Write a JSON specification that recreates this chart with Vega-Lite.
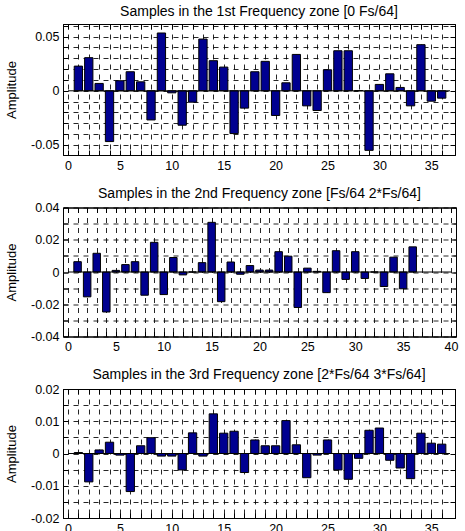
{
  "$schema": "https://vega.github.io/schema/vega-lite/v6.json",
  "padding": {"left": 5, "top": 4, "right": 5, "bottom": 5},
  "background": "white",
  "datasets": {
    "p1": [
      {"n": 1, "amp": 0.0228}, {"n": 2, "amp": 0.0306}, {"n": 3, "amp": 0.0068}, {"n": 4, "amp": -0.0469},
      {"n": 5, "amp": 0.0093}, {"n": 6, "amp": 0.0176}, {"n": 7, "amp": 0.0083}, {"n": 8, "amp": -0.0269},
      {"n": 9, "amp": 0.0534}, {"n": 10, "amp": -0.0019}, {"n": 11, "amp": -0.0318}, {"n": 12, "amp": -0.0105},
      {"n": 13, "amp": 0.0478}, {"n": 14, "amp": 0.0278}, {"n": 15, "amp": 0.0219}, {"n": 16, "amp": -0.0395},
      {"n": 17, "amp": -0.016}, {"n": 18, "amp": 0.0176}, {"n": 19, "amp": 0.0272}, {"n": 20, "amp": -0.0228},
      {"n": 21, "amp": 0.0074}, {"n": 22, "amp": 0.0336}, {"n": 23, "amp": -0.0139}, {"n": 24, "amp": -0.0182},
      {"n": 25, "amp": 0.0194}, {"n": 26, "amp": 0.037}, {"n": 27, "amp": 0.037}, {"n": 28, "amp": 0.0002},
      {"n": 29, "amp": -0.055}, {"n": 30, "amp": 0.0059}, {"n": 31, "amp": 0.0157}, {"n": 32, "amp": 0.0031},
      {"n": 33, "amp": -0.0139}, {"n": 34, "amp": 0.0426}, {"n": 35, "amp": -0.0096}, {"n": 36, "amp": -0.0068}
    ],
    "p2": [
      {"n": 1, "amp": 0.0064}, {"n": 2, "amp": -0.0154}, {"n": 3, "amp": 0.0116}, {"n": 4, "amp": -0.0248},
      {"n": 5, "amp": 0.001}, {"n": 6, "amp": 0.0046}, {"n": 7, "amp": 0.0064}, {"n": 8, "amp": -0.0144},
      {"n": 9, "amp": 0.0184}, {"n": 10, "amp": -0.014}, {"n": 11, "amp": 0.009}, {"n": 12, "amp": -0.0018},
      {"n": 13, "amp": 0.0}, {"n": 14, "amp": 0.0058}, {"n": 15, "amp": 0.0308}, {"n": 16, "amp": -0.0184},
      {"n": 17, "amp": 0.0062}, {"n": 18, "amp": -0.0014}, {"n": 19, "amp": 0.004}, {"n": 20, "amp": 0.0012},
      {"n": 21, "amp": 0.0012}, {"n": 22, "amp": 0.0126}, {"n": 23, "amp": 0.0098}, {"n": 24, "amp": -0.022},
      {"n": 25, "amp": 0.0024}, {"n": 26, "amp": 0.0004}, {"n": 27, "amp": -0.0128}, {"n": 28, "amp": 0.0132},
      {"n": 29, "amp": -0.0046}, {"n": 30, "amp": 0.0126}, {"n": 31, "amp": -0.004}, {"n": 32, "amp": 0.0},
      {"n": 33, "amp": -0.009}, {"n": 34, "amp": 0.0092}, {"n": 35, "amp": -0.0104}, {"n": 36, "amp": 0.0156}
    ],
    "p3": [
      {"n": 1, "amp": 0.0003}, {"n": 2, "amp": -0.0088}, {"n": 3, "amp": 0.0011}, {"n": 4, "amp": 0.0035},
      {"n": 5, "amp": -0.0005}, {"n": 6, "amp": -0.0118}, {"n": 7, "amp": 0.0024}, {"n": 8, "amp": 0.0049},
      {"n": 9, "amp": -0.0008}, {"n": 10, "amp": -0.0008}, {"n": 11, "amp": -0.0051}, {"n": 12, "amp": 0.0064},
      {"n": 13, "amp": -0.0008}, {"n": 14, "amp": 0.0123}, {"n": 15, "amp": 0.0063}, {"n": 16, "amp": 0.0069},
      {"n": 17, "amp": -0.0059}, {"n": 18, "amp": 0.0042}, {"n": 19, "amp": 0.0024}, {"n": 20, "amp": 0.0024},
      {"n": 21, "amp": 0.0102}, {"n": 22, "amp": 0.0027}, {"n": 23, "amp": -0.0075}, {"n": 24, "amp": -0.0005},
      {"n": 25, "amp": 0.0042}, {"n": 26, "amp": -0.0051}, {"n": 27, "amp": -0.008}, {"n": 28, "amp": -0.0015},
      {"n": 29, "amp": 0.0072}, {"n": 30, "amp": 0.0079}, {"n": 31, "amp": -0.0021}, {"n": 32, "amp": -0.0045},
      {"n": 33, "amp": -0.0078}, {"n": 34, "amp": 0.0063}, {"n": 35, "amp": 0.0032}, {"n": 36, "amp": 0.0029}
    ],
    "frame1": [{"a": 0, "b": 36.8, "z": 0}],
    "frame2": [{"a": 0, "b": 40, "z": 0}]
  },
  "spacing": 13.5,
  "vconcat": [
    {
      "title": "Samples in the 1st Frequency zone [0 Fs/64]",
      "width": 392,
      "height": 131,
      "layer": [
        {
          "data": {"name": "p1"},
          "mark": {"type": "bar", "width": 8.3, "color": "#000090", "stroke": "black", "strokeWidth": 1},
          "encoding": {
            "x": {"field": "n", "type": "quantitative", "scale": {"domain": [0, 36.8], "nice": false, "zero": false},
              "axis": {"orient": "bottom", "title": null, "grid": true,
                "values": [0,1,2,3,4,5,6,7,8,9,10,11,12,13,14,15,16,17,18,19,20,21,22,23,24,25,26,27,28,29,30,31,32,33,34,35,36],
                "labelExpr": "datum.value % 5 == 0 ? datum.label : ''"}},
            "y": {"field": "amp", "type": "quantitative", "scale": {"domain": [-0.0593, 0.0617], "nice": false},
              "axis": {"orient": "left", "title": "Amplitude", "grid": true,
                "values": [-0.05,-0.04,-0.03,-0.02,-0.01,0,0.01,0.02,0.03,0.04,0.05,0.06],
                "labelExpr": "abs(round(datum.value*100)) % 5 == 0 ? '' + (round(datum.value*100)/100) : ''"}}
          }
        },
        {
          "data": {"name": "frame1"},
          "mark": {"type": "rule", "color": "black", "strokeWidth": 1},
          "encoding": {
            "x": {"field": "a", "type": "quantitative",
              "axis": {"orient": "top", "title": null, "labels": false, "grid": false,
                "values": [0,1,2,3,4,5,6,7,8,9,10,11,12,13,14,15,16,17,18,19,20,21,22,23,24,25,26,27,28,29,30,31,32,33,34,35,36]}},
            "x2": {"field": "b"},
            "y": {"field": "z", "type": "quantitative",
              "axis": {"orient": "right", "title": null, "labels": false, "grid": false,
                "values": [-0.05,-0.04,-0.03,-0.02,-0.01,0,0.01,0.02,0.03,0.04,0.05,0.06]}}
          }
        }
      ],
      "resolve": {"axis": {"x": "independent", "y": "independent"}}
    },
    {
      "title": "Samples in the 2nd Frequency zone [Fs/64 2*Fs/64]",
      "width": 393,
      "height": 129,
      "layer": [
        {
          "data": {"name": "p2"},
          "mark": {"type": "bar", "width": 7.5, "color": "#000090", "stroke": "black", "strokeWidth": 1},
          "encoding": {
            "x": {"field": "n", "type": "quantitative", "scale": {"domain": [0, 40], "nice": false, "zero": false},
              "axis": {"orient": "bottom", "title": null, "grid": true,
                "values": [0,1,2,3,4,5,6,7,8,9,10,11,12,13,14,15,16,17,18,19,20,21,22,23,24,25,26,27,28,29,30,31,32,33,34,35,36,37,38,39,40],
                "labelExpr": "datum.value % 5 == 0 ? datum.label : ''"}},
            "y": {"field": "amp", "type": "quantitative", "scale": {"domain": [-0.04, 0.04], "nice": false},
              "axis": {"orient": "left", "title": "Amplitude", "grid": true,
                "values": [-0.04,-0.03,-0.02,-0.01,0,0.01,0.02,0.03,0.04],
                "labelExpr": "round(datum.value*100) % 2 == 0 ? '' + (round(datum.value*100)/100) : ''"}}
          }
        },
        {
          "data": {"name": "frame2"},
          "mark": {"type": "rule", "color": "black", "strokeWidth": 1},
          "encoding": {
            "x": {"field": "a", "type": "quantitative",
              "axis": {"orient": "top", "title": null, "labels": false, "grid": false,
                "values": [0,1,2,3,4,5,6,7,8,9,10,11,12,13,14,15,16,17,18,19,20,21,22,23,24,25,26,27,28,29,30,31,32,33,34,35,36,37,38,39,40]}},
            "x2": {"field": "b"},
            "y": {"field": "z", "type": "quantitative",
              "axis": {"orient": "right", "title": null, "labels": false, "grid": false,
                "values": [-0.04,-0.03,-0.02,-0.01,0,0.01,0.02,0.03,0.04]}}
          }
        }
      ],
      "resolve": {"axis": {"x": "independent", "y": "independent"}}
    },
    {
      "title": "Samples in the 3rd Frequency zone [2*Fs/64 3*Fs/64]",
      "width": 392,
      "height": 129,
      "layer": [
        {
          "data": {"name": "p3"},
          "mark": {"type": "bar", "width": 8.3, "color": "#000090", "stroke": "black", "strokeWidth": 1},
          "encoding": {
            "x": {"field": "n", "type": "quantitative", "scale": {"domain": [0, 36.8], "nice": false, "zero": false},
              "axis": {"orient": "bottom", "title": null, "grid": true,
                "values": [0,1,2,3,4,5,6,7,8,9,10,11,12,13,14,15,16,17,18,19,20,21,22,23,24,25,26,27,28,29,30,31,32,33,34,35,36],
                "labelExpr": "datum.value % 5 == 0 ? datum.label : ''"}},
            "y": {"field": "amp", "type": "quantitative", "scale": {"domain": [-0.02, 0.02], "nice": false},
              "axis": {"orient": "left", "title": "Amplitude", "grid": true,
                "values": [-0.02,-0.015,-0.01,-0.005,0,0.005,0.01,0.015,0.02],
                "labelExpr": "round(datum.value*1000) % 10 == 0 ? '' + (round(datum.value*1000)/1000) : ''"}}
          }
        },
        {
          "data": {"name": "frame1"},
          "mark": {"type": "rule", "color": "black", "strokeWidth": 1},
          "encoding": {
            "x": {"field": "a", "type": "quantitative",
              "axis": {"orient": "top", "title": null, "labels": false, "grid": false,
                "values": [0,1,2,3,4,5,6,7,8,9,10,11,12,13,14,15,16,17,18,19,20,21,22,23,24,25,26,27,28,29,30,31,32,33,34,35,36]}},
            "x2": {"field": "b"},
            "y": {"field": "z", "type": "quantitative",
              "axis": {"orient": "right", "title": null, "labels": false, "grid": false,
                "values": [-0.02,-0.015,-0.01,-0.005,0,0.005,0.01,0.015,0.02]}}
          }
        }
      ],
      "resolve": {"axis": {"x": "independent", "y": "independent"}}
    }
  ],
  "config": {
    "font": "Liberation Sans",
    "view": {"stroke": "black", "strokeWidth": 1},
    "axis": {
      "domainColor": "black", "domainWidth": 1,
      "tickColor": "black", "tickSize": -5, "tickWidth": 1,
      "labelColor": "black", "labelFont": "Liberation Sans", "labelFontSize": 12.5,
      "labelPadding": 9, "labelFlush": false, "labelOverlap": false, "labelBound": false,
      "titleColor": "black", "titleFont": "Liberation Sans", "titleFontSize": 13, "titleFontWeight": "normal", "titlePadding": 12,
      "gridColor": "black", "gridDash": [5, 5], "gridOpacity": 0.85, "gridWidth": 1
    },
    "title": {"font": "Liberation Sans", "fontSize": 14, "fontWeight": "normal", "color": "black", "offset": 1}
  }
}
